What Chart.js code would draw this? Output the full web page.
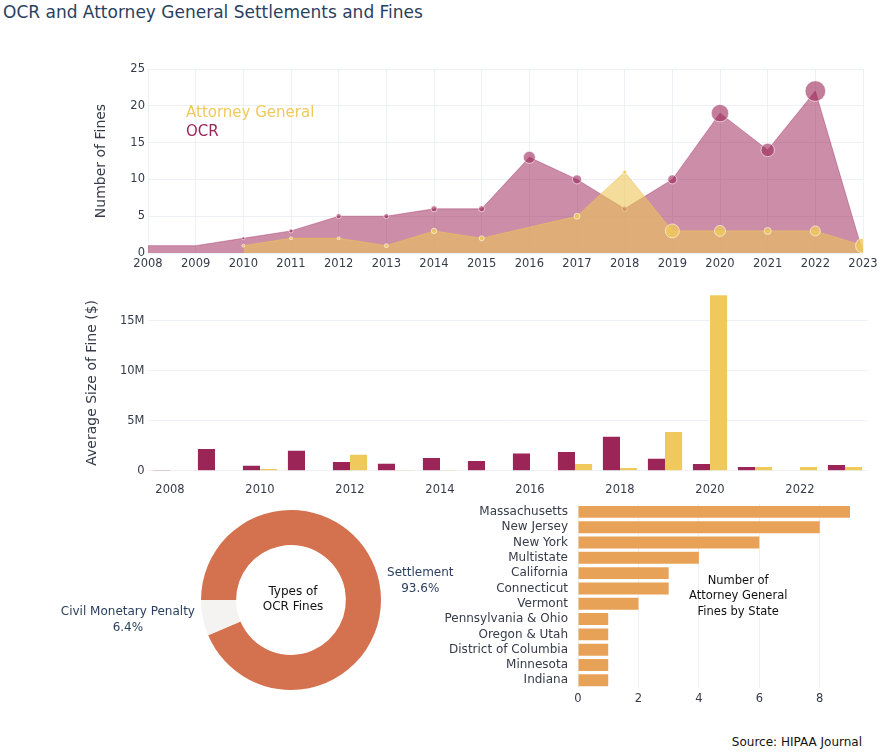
<!DOCTYPE html>
<html>
<head>
<meta charset="utf-8">
<script src="https://cdn.jsdelivr.net/npm/chart.js@4.4.0/dist/chart.umd.min.js"></script>
<style>
    body { margin: 0; background: #fff; width: 883px; height: 752px; position: relative; overflow: hidden; font-family: "DejaVu Sans", Verdana, sans-serif; }
    canvas { position: absolute; }
    #title { position: absolute; left: 3px; top: 2px; font-size: 17px; line-height: 20px; color: #2a3f5f; white-space: nowrap; }
    #source { position: absolute; right: 21px; top: 735px; font-size: 12px; line-height: 14px; color: #111; white-space: nowrap; }
</style>
</head>
<body>
<div id="title">OCR and Attorney General Settlements and Fines</div>
<canvas id="countChart" width="883" height="220" style="left:0;top:55px"></canvas>
<canvas id="sizeChart" width="883" height="215" style="left:0;top:280px"></canvas>
<canvas id="typeChart" width="470" height="215" style="left:0;top:495px"></canvas>
<canvas id="stateChart" width="443" height="215" style="left:440px;top:495px"></canvas>
<div id="source">Source: HIPAA Journal</div>

<script>
// Data
const years = ['2008', '2009', '2010', '2011', '2012', '2013', '2014', '2015',
               '2016', '2017', '2018', '2019', '2020', '2021', '2022', '2023'];

// number of fines per year
const ocrCount = [1, 1, 2, 3, 5, 5, 6, 6, 13, 10, 6, 10, 19, 14, 22, 0];
const agCount = [null, null, 1, 2, 2, 1, 3, 2, null, 5, 11, 3, 3, 3, 3, 1];

// bubble marker radius (px) on the count chart
const ocrBubble = [0, 0, 1.5, 2, 2.5, 2.5, 3, 3, 6, 4.5, 2.5, 4.5, 8.7, 6.7, 10.3, 0];
const agBubble = [0, 0, 1.5, 1.5, 1.5, 2, 2.7, 2.5, 0, 3, 2, 7, 5.5, 3.5, 5, 7.5];

// average size of fine ($)
const ocrAvgFine = [70000, 2170000, 500000, 2000000, 870000, 700000, 1270000, 970000,
                    1730000, 1870000, 3400000, 1200000, 670000, 370000, 50000, 570000];
const agAvgFine = [0, 0, 170000, 0, 1600000, 30000, 30000, 0,
                   0, 670000, 270000, 3870000, 17570000, 370000, 370000, 370000];
const fineTicks = [0, 5000000, 10000000, 15000000];

// types of OCR fines (%)
const fineTypes = ['Settlement', 'Civil Monetary Penalty'];
const fineTypeShare = [93.6, 6.4];

// attorney general fines by state
const states = ['Massachusetts', 'New Jersey', 'New York', 'Multistate', 'California', 'Connecticut',
                'Vermont', 'Pennsylvania & Ohio', 'Oregon & Utah', 'District of Columbia', 'Minnesota', 'Indiana'];
const stateFines = [9, 8, 6, 4, 3, 3, 2, 1, 1, 1, 1, 1];

const FONT = '"DejaVu Sans", Verdana, sans-serif';
const TEXT = '#363b4a';
const GRID = '#edf0f4';
const OCR_COLOR = '#9b2557';
const AG_COLOR = '#f0c95c';

Chart.defaults.font.family = FONT;
Chart.defaults.font.size = 12;
Chart.defaults.color = TEXT;
Chart.defaults.animation = false;
Chart.defaults.responsive = false;
Chart.defaults.events = [];
Chart.defaults.plugins.legend.display = false;
Chart.defaults.plugins.tooltip.enabled = false;

// Text legend inside the count chart
const countLegend = {
    id: 'countLegend',
    afterDraw(chart) {
        const ctx = chart.ctx;
        const area = chart.chartArea;
        ctx.save();
        ctx.font = '15px ' + FONT;
        ctx.textBaseline = 'middle';
        ctx.textAlign = 'left';
        ctx.fillStyle = AG_COLOR;
        ctx.fillText('Attorney General', area.left + 38, area.top + 44);
        ctx.fillStyle = OCR_COLOR;
        ctx.fillText('OCR', area.left + 38, area.top + 63);
        ctx.restore();
    }
};

// Center text and outside labels for the doughnut
const donutLabels = {
    id: 'donutLabels',
    afterDraw(chart) {
        const ctx = chart.ctx;
        const meta = chart.getDatasetMeta(0);
        const ds = chart.data.datasets[0];
        ctx.save();
        ctx.font = '12px ' + FONT;
        ctx.textBaseline = 'middle';
        ctx.textAlign = 'center';

        meta.data.forEach(function(arc, i) {
            const mid = (arc.startAngle + arc.endAngle) / 2;
            const r = arc.outerRadius + 8;
            const ax = arc.x + Math.cos(mid) * r;
            const ay = arc.y + Math.sin(mid) * r;
            const lines = [chart.data.labels[i], ds.data[i].toFixed(1) + '%'];
            const w = Math.max.apply(null, lines.map(function(t) { return ctx.measureText(t).width; }));
            const cx = Math.cos(mid) >= 0 ? ax + w / 2 : ax - w / 2;
            ctx.fillStyle = '#2a3f5f';
            ctx.fillText(lines[0], cx, ay - 8);
            ctx.fillText(lines[1], cx, ay + 8);
        });

        const c = meta.data[0];
        ctx.fillStyle = '#111';
        ctx.fillText('Types of', c.x + 2, c.y - 8);
        ctx.fillText('OCR Fines', c.x + 2, c.y + 7);
        ctx.restore();
    }
};

// Annotation on the state chart
const stateNote = {
    id: 'stateNote',
    afterDraw(chart) {
        const ctx = chart.ctx;
        const x = chart.scales.x.getPixelForValue(5.3);
        const y = chart.scales.y.getPixelForValue(5.5);
        ctx.save();
        ctx.font = '11.5px ' + FONT;
        ctx.textBaseline = 'middle';
        ctx.textAlign = 'center';
        ctx.fillStyle = '#111';
        ctx.fillText('Number of', x, y - 15.5);
        ctx.fillText('Attorney General', x, y);
        ctx.fillText('Fines by State', x, y + 15.5);
        ctx.restore();
    }
};

// Count chart (area + bubbles)
new Chart(document.getElementById('countChart'), {
    type: 'line',
    data: {
        labels: years,
        datasets: [
            {
                label: 'Attorney General',
                data: agCount,
                spanGaps: true,
                fill: 'origin',
                tension: 0,
                backgroundColor: 'rgba(236, 197, 88, 0.6)',
                borderColor: 'rgba(236, 197, 88, 0.6)',
                borderWidth: 1,
                pointRadius: agBubble,
                pointBackgroundColor: 'rgba(240, 201, 92, 0.8)',
                pointBorderColor: 'rgba(255, 255, 255, 0.6)',
                pointBorderWidth: 1,
                clip: { left: 0, top: 20, right: 0, bottom: 2 }
            },
            {
                label: 'OCR',
                data: ocrCount,
                fill: 'origin',
                tension: 0,
                backgroundColor: 'rgba(155, 37, 87, 0.52)',
                borderColor: 'rgba(155, 37, 87, 0.4)',
                borderWidth: 1,
                pointRadius: ocrBubble,
                pointBackgroundColor: 'rgba(155, 37, 87, 0.6)',
                pointBorderColor: 'rgba(255, 255, 255, 0.6)',
                pointBorderWidth: 1,
                clip: { left: 0, top: 20, right: 0, bottom: 2 }
            }
        ]
    },
    options: {
        layout: { padding: { left: 0, right: 20, top: 14, bottom: 0 } },
        scales: {
            x: {
                grid: { color: GRID, drawTicks: false },
                border: { display: false },
                ticks: { padding: 4, autoSkip: false, maxRotation: 0, font: { size: 11.5 } },
                afterFit: function(scale) { scale.height = 22; }
            },
            y: {
                min: 0,
                max: 25,
                grid: { color: GRID, drawTicks: false },
                border: { display: false },
                ticks: { stepSize: 5, padding: 3, font: { size: 11.5 } },
                title: { display: true, text: 'Number of Fines', font: { size: 14 }, padding: { top: 93, bottom: 0 } },
                afterFit: function(scale) { scale.width = 148; }
            }
        }
    },
    plugins: [countLegend]
});

// Average size of fine (grouped bars)
new Chart(document.getElementById('sizeChart'), {
    type: 'bar',
    data: {
        labels: years,
        datasets: [
            { label: 'OCR', data: ocrAvgFine, backgroundColor: OCR_COLOR, categoryPercentage: 0.76, barPercentage: 1 },
            { label: 'Attorney General', data: agAvgFine, backgroundColor: AG_COLOR, categoryPercentage: 0.76, barPercentage: 1 }
        ]
    },
    options: {
        layout: { padding: { left: 0, right: 15.5, top: 15, bottom: 0 } },
        scales: {
            x: {
                grid: { display: false },
                border: { display: false },
                ticks: {
                    padding: 4,
                    autoSkip: false,
                    maxRotation: 0,
                    font: { size: 11.5 },
                    callback: function(value, index) {
                        return index % 2 === 0 ? this.getLabelForValue(value) : '';
                    }
                },
                afterFit: function(scale) { scale.height = 24.3; }
            },
            y: {
                min: 0,
                max: 17600000,
                grid: { color: GRID, drawTicks: false },
                border: { display: false },
                afterBuildTicks: function(scale) {
                    scale.ticks = fineTicks.map(function(v) { return { value: v }; });
                },
                ticks: {
                    padding: 3,
                    font: { size: 11.5 },
                    callback: function(value) {
                        return value === 0 ? '0' : (value / 1000000) + 'M';
                    }
                },
                title: { display: true, text: 'Average Size of Fine ($)', font: { size: 14 }, padding: { top: 84, bottom: 0 } },
                afterFit: function(scale) { scale.width = 147.5; }
            }
        }
    }
});

// Types of OCR fines (doughnut)
new Chart(document.getElementById('typeChart'), {
    type: 'doughnut',
    data: {
        labels: fineTypes,
        datasets: [{
            data: fineTypeShare,
            backgroundColor: ['#d4714f', '#f5f3f2'],
            borderWidth: 0
        }]
    },
    options: {
        cutout: '61%',
        rotation: -90,
        layout: { padding: { left: 201, right: 89, top: 15, bottom: 20 } }
    },
    plugins: [donutLabels]
});

// Attorney general fines by state (horizontal bars)
new Chart(document.getElementById('stateChart'), {
    type: 'bar',
    data: {
        labels: states,
        datasets: [{
            data: stateFines,
            backgroundColor: '#e8a257',
            barPercentage: 0.78,
            categoryPercentage: 1
        }]
    },
    options: {
        indexAxis: 'y',
        layout: { padding: { left: 0, right: 33, top: 7, bottom: 0 } },
        scales: {
            x: {
                min: 0,
                max: 9,
                grid: { color: GRID, drawTicks: false },
                border: { display: false },
                ticks: { stepSize: 2, includeBounds: false, padding: 4, font: { size: 11.5 } },
                afterFit: function(scale) { scale.height = 22; }
            },
            y: {
                grid: { display: false },
                border: { display: false },
                ticks: { padding: 2, autoSkip: false, font: { size: 12 } },
                afterFit: function(scale) { scale.width = 138; }
            }
        }
    },
    plugins: [stateNote]
});
</script>
</body>
</html>
